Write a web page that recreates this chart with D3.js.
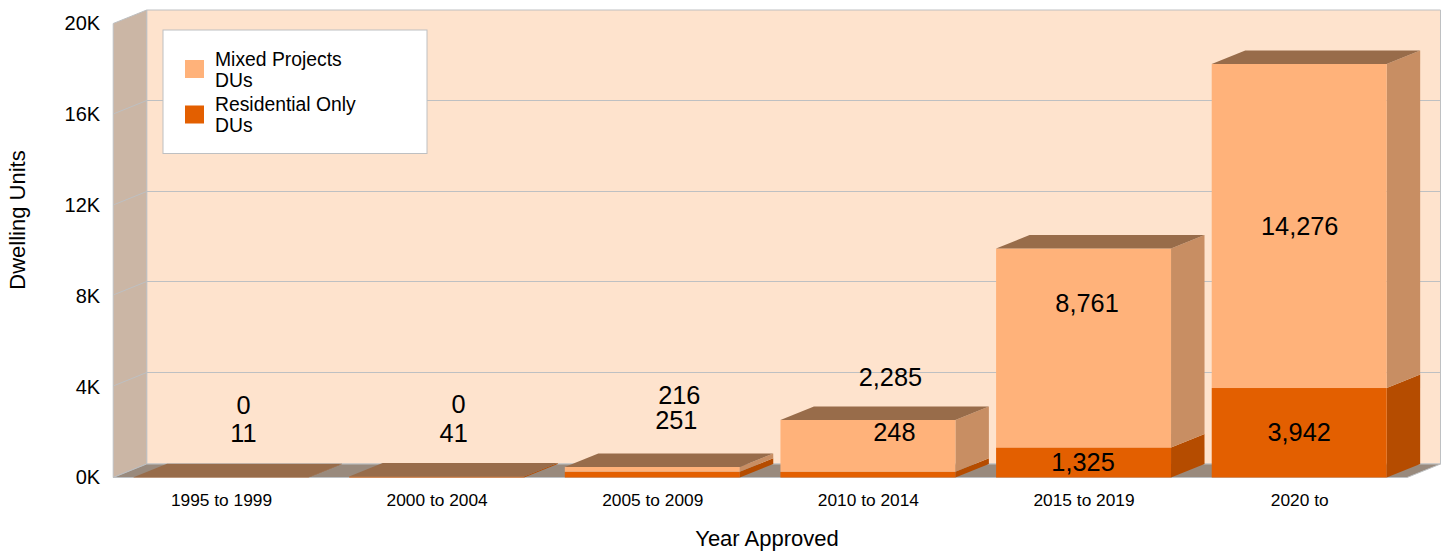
<!DOCTYPE html>
<html><head><meta charset="utf-8">
<script src="https://cdn.jsdelivr.net/npm/d3@7/dist/d3.min.js"></script>
<style>html,body{margin:0;padding:0;background:#fff}svg{display:block}text{font-family:"Liberation Sans",Arial,sans-serif;fill:#000}</style>
</head><body><svg id="c" width="1447" height="552"></svg>
<script>
const categories=["1995 to 1999","2000 to 2004","2005 to 2009","2010 to 2014","2015 to 2019","2020 to"];
const residentialOnly=[11,41,251,248,1325,3942];
const mixedProjects=[0,0,216,2285,8761,14276];
const yTicks=[0,4000,8000,12000,16000,20000];
const seriesNames=[["Mixed Projects","DUs"],["Residential Only","DUs"]];
// label nudges relative to each segment's centre (dx,dy)
const mixedNudge=[[22.5,-72],[22,-73],[27,-74],[22.5,-69],[3.5,-45],[0.5,0]];
const residentialNudge=[[22.5,-44],[17,-44],[24,-55],[26.5,-43],[-0.5,0],[0,-0.5]];

const C={wall:"#FEE3CD",left:"#CBB6A5",floor:"#998A7D",grid:"#BEC0C2",mix:"#FFB27A",res:"#E35F00",
 top:"#986C4A",mixSide:"#C88E63",resSide:"#B54C00"};
const DX=33.5,DY=13.5;
const svg=d3.select("#c");
const x=d3.scaleBand().domain(categories).range([113.2,1407]).paddingInner(0.1887).paddingOuter(0.0943);
const y=d3.scaleLinear().domain([0,20000]).range([477.5,23.5]);
const poly=(pts,fill,stroke)=>svg.append("polygon").attr("points",pts.map(p=>p.join(",")).join(" ")).attr("fill",fill).attr("stroke",stroke||"none").attr("stroke-width",stroke?1:0);

// walls + floor
const x0=x.range()[0],x1=x.range()[1],yb=y(0),yt=y(20000);
poly([[x0+DX,yt-DY],[x1+DX,yt-DY],[x1+DX,yb-DY],[x0+DX,yb-DY]],C.wall,C.grid);
poly([[x0,yt],[x0+DX,yt-DY],[x0+DX,yb-DY],[x0,yb]],C.left,C.grid);
poly([[x0,yb],[x0+DX,yb-DY],[x1+DX,yb-DY],[x1,yb]],C.floor,C.grid);
// grid: snapped to whole pixels on the back wall so the lines stay crisp
yTicks.slice(1,-1).forEach(t=>{
  const gy=Math.round(y(t)-DY-1)+.5;
  svg.append("path").attr("d",`M${x0},${gy+DY}L${x0+DX},${gy}L${x1+DX},${gy}`).attr("fill","none").attr("stroke",C.grid).attr("stroke-width",1);
});
// bars
categories.forEach((c,i)=>{
  const l=x(c),r=l+x.bandwidth(),a=residentialOnly[i],b=a+mixedProjects[i];
  const box=(v0,v1,front,side)=>{
    if(v1<=v0)return;
    poly([[r,y(v0)],[r+DX,y(v0)-DY],[r+DX,y(v1)-DY],[r,y(v1)]],side);
    svg.append("rect").attr("x",l).attr("y",y(v1)).attr("width",x.bandwidth()).attr("height",y(v0)-y(v1)).attr("fill",front);
  };
  box(0,a,C.res,C.resSide);
  box(a,b,C.mix,C.mixSide);
  poly([[l,y(b)],[l+DX,y(b)-DY],[r+DX,y(b)-DY],[r,y(b)]],C.top);
});
// axes
const yAxis=svg.append("g").attr("transform",`translate(${x0},0)`).call(d3.axisLeft(y).tickValues(yTicks).tickFormat(d=>(d/1000)+"K").tickSize(0).tickPadding(13));
const xAxis=svg.append("g").attr("transform",`translate(0.5,${yb})`).call(d3.axisBottom(x).tickSize(0).tickPadding(16.5));
[yAxis,xAxis].forEach(g=>{g.select(".domain").remove();g.attr("font-family",null);});
yAxis.selectAll("text").attr("font-size",20);
xAxis.selectAll("text").attr("font-size",17.33);
svg.append("text").attr("transform","translate(17,220) rotate(-90)").attr("text-anchor","middle").attr("dominant-baseline","central").attr("font-size",22).text("Dwelling Units");
svg.append("text").attr("x",767).attr("y",538.5).attr("text-anchor","middle").attr("dominant-baseline","central").attr("font-size",22).text("Year Approved");
// labels
const fmt=d3.format(",");
const label=(v,v0,v1,c,n)=>svg.append("text").attr("x",x(c)+x.bandwidth()/2+n[0]).attr("y",y((v0+v1)/2)+n[1]).attr("text-anchor","middle").attr("dominant-baseline","central").attr("font-size",25.33).text(fmt(v));
categories.forEach((c,i)=>{
  const a=residentialOnly[i],m=mixedProjects[i];
  label(m,a,a+m,c,mixedNudge[i]);
  label(a,0,a,c,residentialNudge[i]);
});
// legend
svg.append("rect").attr("x",163).attr("y",30).attr("width",264).attr("height",123.5).attr("fill","#fff").attr("stroke",C.grid);
[C.mix,C.res].forEach((col,i)=>{
  const oy=i*45.5;
  svg.append("rect").attr("x",185).attr("y",60+oy).attr("width",19).attr("height",18).attr("fill",col);
  seriesNames[i].forEach((t,j)=>svg.append("text").attr("x",215).attr("y",65.7+i*45.2+j*21.5).attr("font-size",19.33).text(t));
});
</script></body></html>
